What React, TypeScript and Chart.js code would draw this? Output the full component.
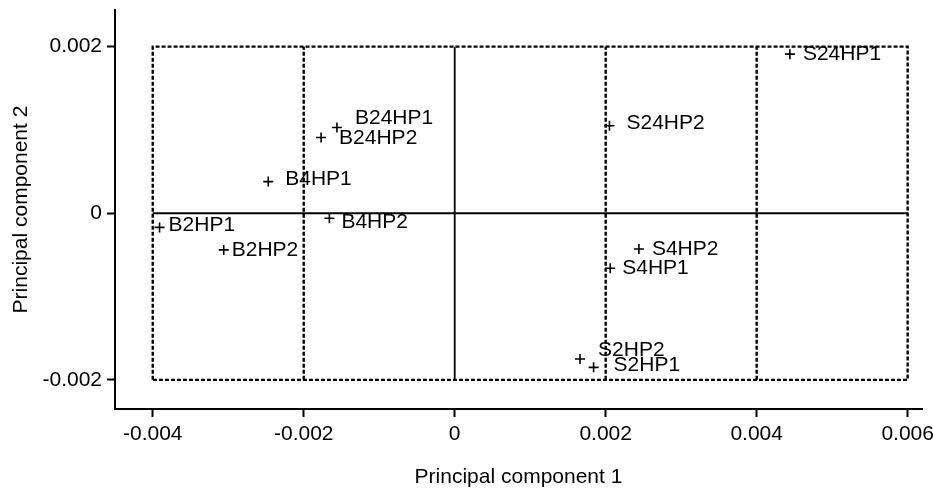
import React, { useEffect, useRef } from "react";
import { Chart, registerables } from "chart.js";

Chart.register(...registerables);

// ---- data ----
const SAMPLE_NAMES = ["B24HP1", "B24HP2", "B4HP1", "B4HP2", "B2HP1", "B2HP2", "S24HP1", "S24HP2", "S4HP1", "S4HP2", "S2HP1", "S2HP2"];
const PC1 = [-0.00156, -0.00177, -0.00247, -0.00166, -0.00391, -0.00306, 0.00444, 0.00205, 0.00206, 0.00244, 0.00184, 0.00166];
const PC2 = [0.00103, 0.00091, 0.00038, -0.00006, -0.00017, -0.00044, 0.00191, 0.00105, -0.00066, -0.00043, -0.00185, -0.00175];

const X_TICKS = [-0.004, -0.002, 0, 0.002, 0.004, 0.006];
const X_TICK_LABELS = ["-0.004", "-0.002", "0", "0.002", "0.004", "0.006"];
const Y_TICKS = [-0.002, 0, 0.002];
const Y_TICK_LABELS = ["-0.002", "0", "0.002"];

const X_RANGE = [-0.0045, 0.00619];
const Y_RANGE = [-0.00235, 0.00244];

const FRAME_X = [-0.004, 0.006];
const FRAME_Y = [-0.002, 0.002];
const DOTTED_DIVIDERS_X = [-0.002, 0.002, 0.004];
const SOLID_CROSS_X = 0;
const SOLID_CROSS_Y = 0;

const X_TITLE = "Principal component 1";
const Y_TITLE = "Principal component 2";

// label placement (pixels relative to the marker), same order as SAMPLE_NAMES
const LABEL_OFFSETS: [number, number][] = [
  [18, -9], [18, 1], [17, -2], [12, 4], [9, -2], [8, 0],
  [13, 0], [17, -3], [12, 0], [13, 0], [20, -2], [18, -9],
];

const FONT_FAMILY = '"Liberation Sans", Arial, Helvetica, sans-serif';

const labelPlugin = {
  id: "pointNameLabels",
  afterDatasetsDraw(chart: any) {
    const meta = chart.getDatasetMeta(0);
    const ctx = chart.ctx;
    ctx.save();
    ctx.font = `21px ${FONT_FAMILY}`;
    ctx.fillStyle = "#000";
    ctx.textAlign = "left";
    ctx.textBaseline = "middle";
    meta.data.forEach((pt: any, i: number) => {
      const [dx, dy] = LABEL_OFFSETS[i];
      ctx.fillText(SAMPLE_NAMES[i], pt.x + dx, pt.y + dy);
    });
    ctx.restore();
  },
};

function lineDataset(points: { x: number; y: number }[], dotted: boolean) {
  return {
    data: points,
    showLine: true,
    borderColor: "#000",
    borderWidth: dotted ? 2.4 : 1.8,
    borderDash: dotted ? [4, 2] : [],
    pointRadius: 0,
    pointHoverRadius: 0,
    fill: false,
    tension: 0,
  };
}

export default function App() {
  const canvasRef = useRef<HTMLCanvasElement | null>(null);

  useEffect(() => {
    if (!canvasRef.current) return;
    const frame = [
      { x: FRAME_X[0], y: FRAME_Y[0] },
      { x: FRAME_X[0], y: FRAME_Y[1] },
      { x: FRAME_X[1], y: FRAME_Y[1] },
      { x: FRAME_X[1], y: FRAME_Y[0] },
      { x: FRAME_X[0], y: FRAME_Y[0] },
    ];
    const dividers = DOTTED_DIVIDERS_X.map((xv) =>
      lineDataset([{ x: xv, y: FRAME_Y[0] }, { x: xv, y: FRAME_Y[1] }], true)
    );
    const solidV = lineDataset([{ x: SOLID_CROSS_X, y: FRAME_Y[0] }, { x: SOLID_CROSS_X, y: FRAME_Y[1] }], false);
    const solidH = lineDataset([{ x: FRAME_X[0], y: SOLID_CROSS_Y }, { x: FRAME_X[1], y: SOLID_CROSS_Y }], false);

    const tickFont = { family: FONT_FAMILY, size: 21 };

    const chart = new Chart(canvasRef.current, {
      type: "scatter",
      data: {
        datasets: [
          {
            data: PC1.map((x, i) => ({ x, y: PC2[i] })),
            pointStyle: "cross",
            pointRadius: 5,
            pointHoverRadius: 5,
            borderColor: "#000",
            backgroundColor: "#000",
            borderWidth: 1.6,
            showLine: false,
          } as any,
          solidV as any,
          solidH as any,
          ...(dividers as any[]),
          lineDataset(frame, true) as any,
        ],
      },
      options: {
        animation: false,
        responsive: false,
        events: [],
        layout: { padding: { top: 10, right: 11, bottom: 0, left: 0 } },
        plugins: {
          legend: { display: false },
          tooltip: { enabled: false },
        },
        scales: {
          x: {
            type: "linear",
            position: "bottom",
            min: X_RANGE[0],
            max: X_RANGE[1],
            afterBuildTicks: (s: any) => {
              s.ticks = X_TICKS.map((v) => ({ value: v }));
            },
            afterFit: (s: any) => {
              s.height = 82;
              s.paddingLeft = 0;
              s.paddingRight = 0;
            },
            ticks: {
              callback: (_v: any, i: number) => X_TICK_LABELS[i],
              font: tickFont,
              color: "#000",
              padding: 5,
              autoSkip: false,
              maxRotation: 0,
            },
            grid: {
              drawOnChartArea: false,
              drawTicks: true,
              tickLength: 8,
              tickWidth: 2,
              tickColor: "#000",
            },
            border: { display: true, color: "#000", width: 2 },
            title: {
              display: true,
              text: X_TITLE,
              color: "#000",
              font: tickFont,
              padding: { top: 0, bottom: 1.5 },
            },
          },
          y: {
            type: "linear",
            position: "left",
            min: Y_RANGE[0],
            max: Y_RANGE[1],
            afterBuildTicks: (s: any) => {
              s.ticks = Y_TICKS.map((v) => ({ value: v }));
            },
            afterFit: (s: any) => {
              s.width = 115;
              s.paddingTop = 0;
              s.paddingBottom = 0;
            },
            ticks: {
              callback: (_v: any, i: number) => Y_TICK_LABELS[i],
              font: tickFont,
              color: "#000",
              padding: 5,
              autoSkip: false,
            },
            grid: {
              drawOnChartArea: false,
              drawTicks: true,
              tickLength: 8,
              tickWidth: 2,
              tickColor: "#000",
            },
            border: { display: true, color: "#000", width: 2 },
            title: {
              display: true,
              text: Y_TITLE,
              color: "#000",
              font: tickFont,
              padding: { top: 8.5, bottom: 0 },
            },
          },
        },
      } as any,
      plugins: [labelPlugin],
    });
    return () => chart.destroy();
  }, []);

  return (
    <div style={{ position: "fixed", left: 0, top: 0, width: 933, height: 491, background: "#fff" }}>
      <canvas ref={canvasRef} width={933} height={491} style={{ display: "block" }} />
    </div>
  );
}
